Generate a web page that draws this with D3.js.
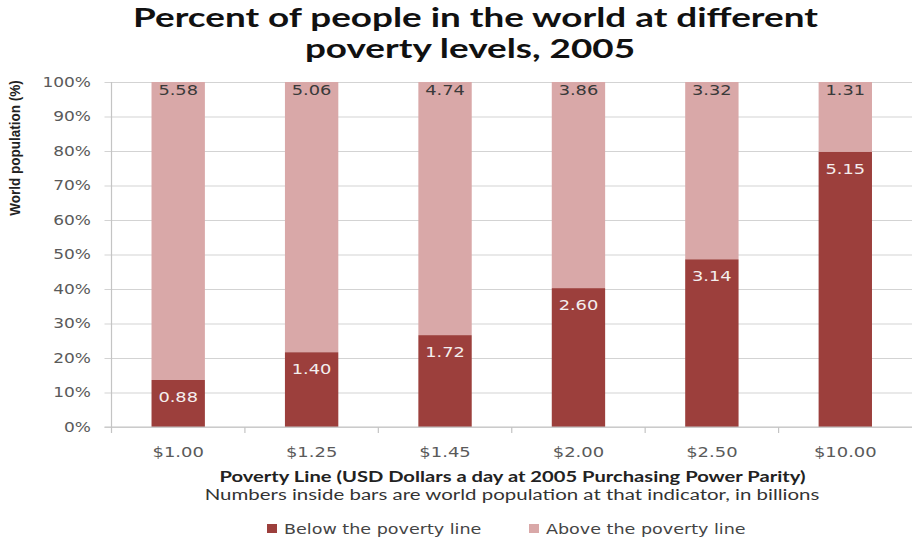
<!DOCTYPE html>
<html>
<head>
<meta charset="utf-8">
<script src="https://cdn.jsdelivr.net/npm/d3@7"></script>
<style>
  html, body { margin: 0; padding: 0; background: #fff; }
  svg { display: block; }
</style>
</head>
<body>
<svg id="chart" width="912" height="541"></svg>
<script>
// Poverty line thresholds (USD/day, 2005 PPP)
const categories = ["$1.00", "$1.25", "$1.45", "$2.00", "$2.50", "$10.00"];
// World population in billions below / above each line
const below = [0.88, 1.40, 1.72, 2.60, 3.14, 5.15];
const above = [5.58, 5.06, 4.74, 3.86, 3.32, 1.31];
const yTicks = [0, 0.1, 0.2, 0.3, 0.4, 0.5, 0.6, 0.7, 0.8, 0.9, 1.0];
const seriesNames = ["Below the poverty line", "Above the poverty line"];

const colDark = "#9c3f3c";
const colLight = "#d9a8a8";
const tickFont = "'DejaVu Sans', Verdana, sans-serif";
const titleFont = "Lato, 'Open Sans', sans-serif";

const svg = d3.select("#chart");
const m = { left: 111.5, right: 912, top: 82, bottom: 427 };

const x = d3.scaleBand().domain(categories).range([m.left, m.right])
  .paddingInner(0.6).paddingOuter(0.3);
const y = d3.scaleLinear().domain([0, 1]).range([m.bottom, m.top]);

const rows = categories.map((c, i) => {
  const t = below[i] + above[i];
  return { cat: c, below: below[i], above: above[i], pb: below[i] / t };
});

// position a text at (px,py) with horizontal stretch sx
function place(sel, px, py, sx) {
  sel.attr("x", 0).attr("y", 0)
    .attr("transform", (d, i) => {
      const X = typeof px === "function" ? px(d, i) : px;
      const Y = typeof py === "function" ? py(d, i) : py;
      return `translate(${X},${Y}) scale(${sx},1)`;
    });
  return sel;
}

// Title
[["Percent of people in the world at different", 475.5, 27],
 ["poverty levels, 2005", 470, 58]].forEach(([t, tx, ty]) => {
  place(svg.append("text"), tx, ty, 1.39)
    .attr("text-anchor", "middle")
    .style("font-family", titleFont).style("font-weight", 700)
    .style("font-size", "26.5px").attr("fill", "#111")
    .text(t);
});

// Horizontal gridlines with outward ticks
const yAxis = d3.axisLeft(y).tickValues(yTicks)
  .tickFormat(d3.format(".0%"))
  .tickSize(-(m.right - m.left)).tickPadding(12);
const gy = svg.append("g").attr("transform", `translate(${m.left},0)`).call(yAxis);
gy.select(".domain").remove();
gy.selectAll(".tick line").attr("stroke", "#d3d3d3").attr("stroke-width", 1.2)
  .attr("x1", -7);
gy.selectAll(".tick text")
  .style("font-family", tickFont).style("font-size", "13.5px")
  .attr("fill", "#5a5a5a")
  .attr("x", -20.5 / 1.26)
  .attr("transform", "scale(1.26,1)");

// Stacked bars
const g = svg.append("g");
g.selectAll("rect.above").data(rows).join("rect")
  .attr("class", "above")
  .attr("x", d => x(d.cat)).attr("width", x.bandwidth())
  .attr("y", y(1)).attr("height", d => y(d.pb) - y(1))
  .attr("fill", colLight);
g.selectAll("rect.below").data(rows).join("rect")
  .attr("class", "below")
  .attr("x", d => x(d.cat)).attr("width", x.bandwidth())
  .attr("y", d => y(d.pb)).attr("height", d => y(0) - y(d.pb))
  .attr("fill", colDark);

// Value labels (billions)
const cx = d => x(d.cat) + x.bandwidth() / 2;
place(g.selectAll("text.la").data(rows).join("text").attr("class", "la"),
      cx, y(1) + 13, 1.32)
  .attr("text-anchor", "middle")
  .style("font-family", tickFont).style("font-size", "13.5px")
  .attr("fill", "#3a3a3a")
  .text(d => d.above.toFixed(2));
place(g.selectAll("text.lb").data(rows).join("text").attr("class", "lb"),
      cx, d => y(d.pb) + 22, 1.32)
  .attr("text-anchor", "middle")
  .style("font-family", tickFont).style("font-size", "13.5px")
  .attr("fill", "#f4eeee")
  .text(d => d.below.toFixed(2));

// Axis lines
svg.append("line").attr("x1", m.left).attr("x2", m.left)
  .attr("y1", m.top).attr("y2", m.bottom + 6)
  .attr("stroke", "#c4c4c4").attr("stroke-width", 1.2);
svg.append("line").attr("x1", m.left - 7).attr("x2", m.right)
  .attr("y1", m.bottom).attr("y2", m.bottom)
  .attr("stroke", "#c4c4c4").attr("stroke-width", 1.2);

// Category boundary ticks and labels
const step = x.step();
svg.selectAll("line.ct").data(categories.slice(1)).join("line")
  .attr("class", "ct")
  .attr("x1", c => x(c) - (step - x.bandwidth()) / 2)
  .attr("x2", c => x(c) - (step - x.bandwidth()) / 2)
  .attr("y1", m.bottom).attr("y2", m.bottom + 6)
  .attr("stroke", "#c4c4c4").attr("stroke-width", 1.2);
place(svg.selectAll("text.cl").data(categories).join("text").attr("class", "cl"),
      c => x(c) + x.bandwidth() / 2, 457, 1.33)
  .attr("text-anchor", "middle")
  .style("font-family", tickFont).style("font-size", "13.5px")
  .attr("fill", "#5a5a5a")
  .text(c => c);

// Axis titles
svg.append("text")
  .attr("transform", "translate(19.5,148) rotate(-90) scale(0.93,1)")
  .attr("text-anchor", "middle")
  .style("font-family", "'Liberation Sans Narrow', 'Liberation Sans', Arial, sans-serif")
  .style("font-weight", 700).style("font-size", "14.5px")
  .attr("fill", "#222")
  .text("World population (%)");
place(svg.append("text"), 512.5, 482, 1.39)
  .attr("text-anchor", "middle")
  .style("font-family", titleFont).style("font-weight", 700)
  .style("font-size", "14.5px").attr("fill", "#222")
  .text("Poverty Line (USD Dollars a day at 2005 Purchasing Power Parity)");
place(svg.append("text"), 512, 500, 1.41)
  .attr("text-anchor", "middle")
  .style("font-family", titleFont)
  .style("font-size", "14.5px").attr("fill", "#333")
  .text("Numbers inside bars are world population at that indicator, in billions");

// Legend
const legendX = [267, 529];
seriesNames.forEach((name, i) => {
  svg.append("rect").attr("x", legendX[i]).attr("y", 524)
    .attr("width", 10).attr("height", 9)
    .attr("fill", i === 0 ? colDark : colLight);
  place(svg.append("text"), legendX[i] + 17, 534, 1.3)
    .style("font-family", tickFont).style("font-size", "13.5px")
    .attr("fill", "#444").text(name);
});
</script>
</body>
</html>
